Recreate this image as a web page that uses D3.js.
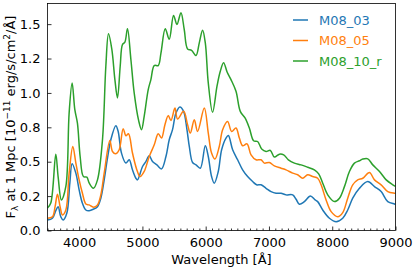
<!DOCTYPE html>
<html>
<head>
<meta charset="utf-8">
<script src="https://cdn.jsdelivr.net/npm/d3@7"></script>
<style>
  body { margin: 0; background: #fff; }
  svg { display: block; font-family: "DejaVu Sans", sans-serif; }
</style>
</head>
<body>
<main></main>
<script>
// spectra: [wavelength (Å), flux]
const seriesNames = ['M08_03', 'M08_05', 'M08_10_r'];
const seriesColors = ['#1f77b4', '#ff7f0e', '#2ca02c'];

const m08_03 = [
  [3500, 0.077], [3578, 0.089], [3631, 0.144], [3668, 0.173], [3710, 0.10], [3747, 0.077],
  [3805, 0.125], [3853, 0.344], [3889, 0.485], [3948, 0.417], [4000, 0.295], [4052, 0.198],
  [4106, 0.149], [4158, 0.144], [4226, 0.155], [4290, 0.173], [4343, 0.235], [4396, 0.368],
  [4448, 0.526], [4501, 0.66], [4580, 0.762], [4617, 0.72], [4669, 0.563], [4739, 0.49],
  [4791, 0.514], [4843, 0.441], [4897, 0.38], [4922, 0.368], [5002, 0.465], [5055, 0.501],
  [5108, 0.543], [5160, 0.501], [5229, 0.477], [5302, 0.448], [5372, 0.538], [5424, 0.66],
  [5476, 0.733], [5530, 0.854], [5593, 0.898], [5651, 0.866], [5704, 0.733], [5741, 0.611],
  [5793, 0.494], [5847, 0.477], [5915, 0.453], [5994, 0.616], [6041, 0.538], [6093, 0.392],
  [6136, 0.344], [6199, 0.429], [6252, 0.587], [6321, 0.672], [6358, 0.69], [6426, 0.587],
  [6505, 0.514], [6584, 0.441], [6663, 0.392], [6742, 0.356], [6805, 0.332], [6875, 0.332],
  [6954, 0.307], [7033, 0.283], [7112, 0.271], [7191, 0.271], [7270, 0.259], [7375, 0.259],
  [7429, 0.227], [7481, 0.191], [7560, 0.21], [7655, 0.251], [7729, 0.222], [7770, 0.21],
  [7850, 0.149], [7956, 0.089], [8062, 0.064], [8166, 0.089], [8245, 0.149], [8324, 0.235],
  [8430, 0.307], [8562, 0.356], [8668, 0.319], [8773, 0.283], [8878, 0.21], [8984, 0.193],
  [9000, 0.19]
];

const m08_05 = [
  [3500, 0.089], [3578, 0.10], [3620, 0.173], [3657, 0.264], [3699, 0.173], [3736, 0.113],
  [3790, 0.149], [3842, 0.417], [3900, 0.611], [3948, 0.49], [4000, 0.368], [4052, 0.271],
  [4106, 0.193], [4158, 0.186], [4226, 0.169], [4290, 0.186], [4343, 0.259], [4396, 0.417],
  [4485, 0.655], [4527, 0.574], [4580, 0.558], [4633, 0.587], [4696, 0.74], [4739, 0.689],
  [4780, 0.703], [4843, 0.563], [4920, 0.43], [4965, 0.392], [5028, 0.429], [5108, 0.538],
  [5187, 0.623], [5250, 0.703], [5302, 0.672], [5356, 0.769], [5408, 0.835], [5451, 0.80],
  [5514, 0.89], [5556, 0.81], [5651, 0.866], [5714, 0.769], [5757, 0.708], [5820, 0.805],
  [5872, 0.72], [5978, 0.89], [6041, 0.708], [6093, 0.563], [6147, 0.519], [6215, 0.611],
  [6268, 0.733], [6346, 0.793], [6410, 0.72], [6479, 0.745], [6532, 0.672], [6584, 0.616],
  [6653, 0.63], [6717, 0.55], [6796, 0.514], [6875, 0.514], [6927, 0.49], [7006, 0.494],
  [7085, 0.47], [7191, 0.453], [7270, 0.441], [7375, 0.417], [7454, 0.405], [7533, 0.38],
  [7612, 0.405], [7691, 0.392], [7770, 0.38], [7824, 0.332], [7903, 0.222], [7983, 0.137],
  [8087, 0.10], [8166, 0.13], [8245, 0.235], [8324, 0.332], [8403, 0.368], [8483, 0.38],
  [8588, 0.421], [8668, 0.368], [8773, 0.332], [8878, 0.283], [8984, 0.271], [9000, 0.27]
];

const m08_10_r = [
  [3500, 0.164], [3552, 0.20], [3631, 0.555], [3668, 0.39], [3720, 0.222], [3790, 0.32],
  [3842, 0.855], [3889, 1.073], [3932, 0.878], [3973, 0.78], [4016, 0.538], [4068, 0.392],
  [4122, 0.388], [4158, 0.346], [4226, 0.307], [4290, 0.368], [4369, 0.66], [4422, 1.194],
  [4464, 1.43], [4517, 1.316], [4565, 1.097], [4606, 0.964], [4649, 1.194], [4685, 1.352],
  [4723, 1.369], [4764, 1.466], [4818, 1.243], [4870, 1.0], [4940, 0.80], [4986, 0.733],
  [5028, 0.83], [5092, 1.024], [5134, 1.097], [5187, 1.199], [5250, 1.199], [5293, 1.29],
  [5361, 1.466], [5424, 1.39], [5492, 1.563], [5546, 1.498], [5609, 1.583], [5661, 1.461],
  [5714, 1.32], [5777, 1.31], [5847, 1.272], [5899, 1.364], [5951, 1.456], [5994, 1.364],
  [6041, 1.073], [6109, 0.859], [6179, 1.049], [6231, 1.157], [6283, 1.219], [6340, 1.15],
  [6400, 1.097], [6479, 1.012], [6547, 0.866], [6622, 0.818], [6690, 0.745], [6758, 0.652],
  [6821, 0.647], [6885, 0.592], [6954, 0.574], [7022, 0.582], [7085, 0.534], [7165, 0.555],
  [7233, 0.55], [7307, 0.514], [7402, 0.49], [7508, 0.477], [7612, 0.46], [7718, 0.441],
  [7786, 0.412], [7850, 0.344], [7929, 0.259], [8035, 0.21], [8114, 0.235], [8193, 0.319],
  [8272, 0.429], [8351, 0.49], [8430, 0.507], [8483, 0.519], [8562, 0.521], [8641, 0.477],
  [8747, 0.429], [8853, 0.368], [8958, 0.332], [9000, 0.32]
];

const xTicks = [4000, 5000, 6000, 7000, 8000, 9000];
const yTicks = [0, 0.25, 0.5, 0.75, 1.0, 1.25, 1.5];
const yTickLabels = ['0.0', '0.2', '0.5', '0.8', '1.0', '1.2', '1.5'];

const W = 415, H = 270;
const plotL = 47.5, plotR = 395.5, plotT = 3.5, plotB = 230.5;

const svg = d3.select('main')
    .append('svg')
    .attr('width', W)
    .attr('height', H);

const xScale = d3.scaleLinear()
    .domain([3500, 9000])
    .range([plotL, plotR]);

const yScale = d3.scaleLinear()
    .domain([0, 1.65])
    .range([plotB, plotT]);

svg.append('clipPath')
    .attr('id', 'plot')
    .append('rect')
    .attr('x', plotL)
    .attr('y', plotT)
    .attr('width', plotR - plotL)
    .attr('height', plotB - plotT);

const line = d3.line()
    .x((d) => xScale(d[0]))
    .y((d) => yScale(d[1]))
    .curve(d3.curveCatmullRom.alpha(0.5));

[m08_03, m08_05, m08_10_r].forEach((data, i) => {
    svg.append('path')
        .datum(data)
        .attr('clip-path', 'url(#plot)')
        .attr('d', line)
        .attr('fill', 'none')
        .attr('stroke', seriesColors[i])
        .attr('stroke-width', 1.5)
        .attr('stroke-linejoin', 'round');
});

// axes, ticks pointing inward
const xAxis = svg.append('g')
    .attr('transform', `translate(0, ${plotB})`)
    .call(d3.axisBottom(xScale)
        .tickValues(xTicks)
        .tickFormat(d3.format('d'))
        .tickSizeInner(-4)
        .tickSizeOuter(0)
        .tickPadding(7));

svg.append('g')
    .attr('transform', `translate(0, ${plotB})`)
    .call(d3.axisBottom(xScale)
        .tickValues(d3.range(3500, 9001, 100).filter((v) => v % 1000 !== 0))
        .tickSizeInner(-2)
        .tickSizeOuter(0)
        .tickFormat(''));

const yAxis = svg.append('g')
    .attr('transform', `translate(${plotL}, 0)`)
    .call(d3.axisLeft(yScale)
        .tickValues(yTicks)
        .tickFormat((d, i) => yTickLabels[i])
        .tickSizeInner(-4)
        .tickSizeOuter(0)
        .tickPadding(7));

[xAxis, yAxis].forEach((g) => {
    g.selectAll('text').attr('font-size', 13).attr('fill', '#000')
        .attr('font-family', '"DejaVu Sans", sans-serif');
});

svg.selectAll('.tick line').attr('stroke', '#000').attr('stroke-width', 0.8);
svg.selectAll('.domain').remove();

// frame
svg.append('rect')
    .attr('x', plotL)
    .attr('y', plotT)
    .attr('width', plotR - plotL)
    .attr('height', plotB - plotT)
    .attr('fill', 'none')
    .attr('stroke', '#000')
    .attr('stroke-width', 0.8);

// axis labels
svg.append('text')
    .attr('x', (plotL + plotR) / 2)
    .attr('y', 264)
    .attr('text-anchor', 'middle')
    .attr('font-size', 13)
    .text('Wavelength [Å]');

const ylab = svg.append('text')
    .attr('transform', `translate(15, ${(plotT + plotB) / 2}) rotate(-90)`)
    .attr('text-anchor', 'middle')
    .attr('font-size', 13);
ylab.append('tspan').text('F');
ylab.append('tspan').attr('font-size', 9).attr('dy', 3).text('λ');
ylab.append('tspan').attr('dy', -3).text(' at 1 Mpc [10');
ylab.append('tspan').attr('font-size', 9).attr('dy', -5).text('−11');
ylab.append('tspan').attr('dy', 5).text(' erg/s/cm');
ylab.append('tspan').attr('font-size', 9).attr('dy', -5).text('2');
ylab.append('tspan').attr('dy', 5).text('/Å]');

// legend
const legend = svg.append('g')
    .attr('transform', 'translate(293, 20)');

seriesNames.forEach((name, i) => {
    const row = legend.append('g')
        .attr('transform', `translate(0, ${i * 20.5})`);
    row.append('line')
        .attr('x1', 0)
        .attr('x2', 15)
        .attr('stroke', seriesColors[i])
        .attr('stroke-width', 1.5);
    row.append('text')
        .attr('x', 26)
        .attr('dy', '0.35em')
        .attr('font-size', 13)
        .attr('fill', seriesColors[i])
        .text(name);
});
</script>
</body>
</html>
